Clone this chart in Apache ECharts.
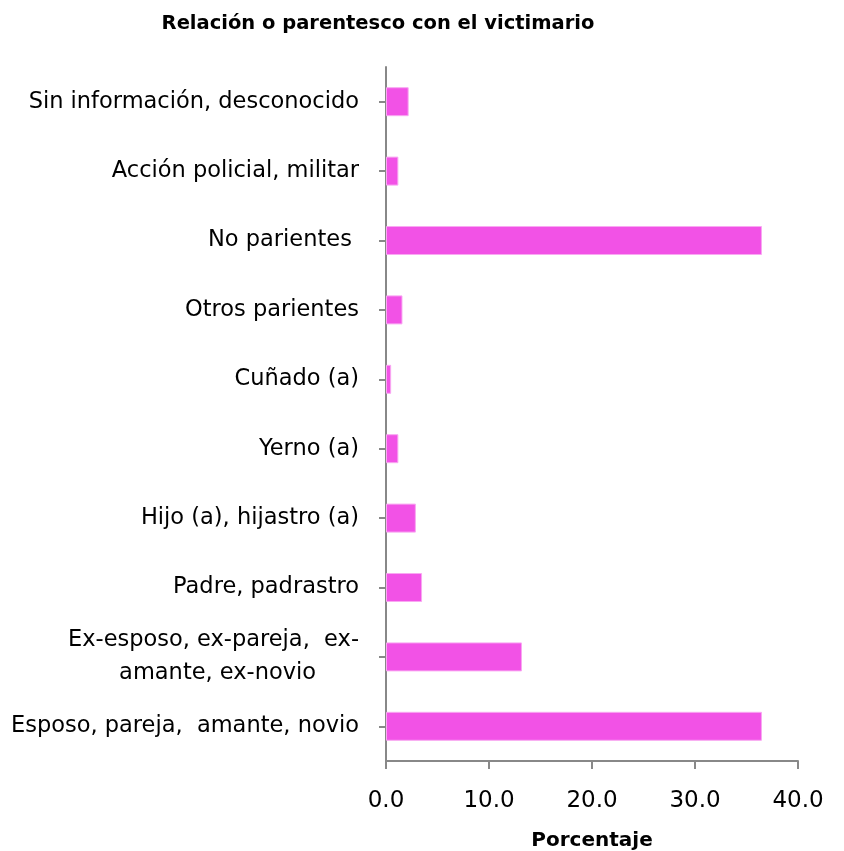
<!DOCTYPE html>
<html><head><meta charset="utf-8">
<script src="https://cdn.jsdelivr.net/npm/echarts@6/dist/echarts.min.js"></script>
<style>html,body{margin:0;padding:0;background:#fff}#c{width:844px;height:851px}</style>
</head><body><div id="c"></div>
<script>
// categories listed bottom to top
var categories = [
  'Esposo, pareja,  amante, novio',
  'Ex-esposo, ex-pareja,  ex-\namante, ex-novio      ',
  'Padre, padrastro',
  'Hijo (a), hijastro (a)',
  'Yerno (a)',
  'Cuñado (a)',
  'Otros parientes',
  'No parientes ',
  'Acción policial, militar',
  'Sin información, desconocido'
];
var values = [36.5, 13.2, 3.5, 2.9, 1.2, 0.5, 1.6, 36.5, 1.2, 2.2];
var xTicks = [0, 10, 20, 30, 40];

var FONT = 'DejaVu Sans';
var chart = echarts.init(document.getElementById('c'));
chart.setOption({
  animation: false,
  title: {
    text: 'Relación o parentesco con el victimario',
    left: 373, top: 9, textAlign: 'center',
    textStyle: {fontFamily: FONT, fontSize: 19.5, fontWeight: 'bold', color: '#000'}
  },
  grid: {left: 386, right: 46, top: 67, bottom: 90, containLabel: false, outerBoundsMode: 'none'},
  xAxis: {
    type: 'value', min: xTicks[0], max: xTicks[xTicks.length - 1], interval: 10,
    name: 'Porcentaje', nameLocation: 'middle', nameGap: 70,
    nameTextStyle: {fontFamily: FONT, fontSize: 20, fontWeight: 'bold', color: '#000'},
    axisLine: {show: true, lineStyle: {color: '#888', width: 2}},
    axisTick: {show: true, length: 8, lineStyle: {color: '#888', width: 2}},
    axisLabel: {fontFamily: FONT, fontSize: 23, color: '#000', margin: 29,
      formatter: function (v) { return v.toFixed(1); }},
    splitLine: {show: false}
  },
  yAxis: {
    type: 'category', data: categories,
    axisLine: {show: true, lineStyle: {color: '#888', width: 2}},
    axisTick: {show: true, alignWithLabel: true, length: 7, inside: false, lineStyle: {color: '#888', width: 2}},
    axisLabel: {fontFamily: FONT, fontSize: 22.5, color: '#000', margin: 27, lineHeight: 33}
  },
  series: [{
    type: 'bar', data: values, barWidth: 29,
    itemStyle: {color: '#F252E6', borderColor: '#F9A8F2', borderWidth: 1}
  }]
});
</script></body></html>
